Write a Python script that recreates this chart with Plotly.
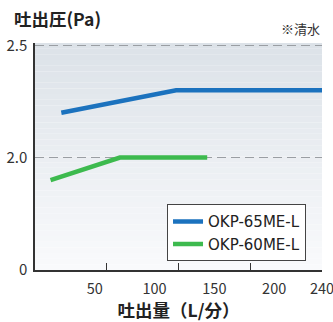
import plotly.graph_objects as go

# Data (x: 吐出量 L/分, y: 吐出圧; lower y region is compressed: 1.5 drawn as "0")
series_names = ["OKP-65ME-L", "OKP-60ME-L"]
blue_x = [22, 118, 240]
blue_y = [2.2, 2.3, 2.3]
green_x = [13, 71, 144]
green_y = [1.9, 2.0, 2.0]
x_label_vals = [50, 100, 150, 200, 240]
x_label_text = ["50", "100", "150", "200", "240"]
x_tick_vals = [60, 120, 180, 240]
y_tick_vals = [1.5, 2.0, 2.5]
y_tick_text = ["0", "2.0", "2.5"]

FONT = "Noto Sans CJK JP, Noto Sans, sans-serif"

fig = go.Figure()
fig.add_trace(go.Scatter(x=blue_x, y=blue_y, mode="lines", name=series_names[0],
                         line=dict(color="#1b72be", width=4.5)))
fig.add_trace(go.Scatter(x=green_x, y=green_y, mode="lines", name=series_names[1],
                         line=dict(color="#3dba4e", width=4.5)))
# invisible trace for secondary x axis (tick marks every 60)
fig.add_trace(go.Scatter(x=[0, 240], y=[1.5, 1.5], xaxis="x2", mode="lines",
                         line=dict(width=0), showlegend=False, hoverinfo="skip"))

# vertical gradient background
n = 40
top = (220, 226, 232)
bot = (249, 250, 252)
for i in range(n):
    t = i / (n - 1)
    c = tuple(round(top[k] + (bot[k] - top[k]) * t) for k in range(3))
    fig.add_shape(type="rect", xref="x domain", yref="y domain",
                  x0=0, x1=1, y0=1 - (i + 1) / n, y1=1 - i / n,
                  fillcolor="rgb(%d,%d,%d)" % c, line=dict(width=0), layer="below")

fig.update_layout(
    width=333, height=322,
    margin=dict(l=35, r=11, t=43, b=52),
    paper_bgcolor="white", plot_bgcolor="rgba(0,0,0,0)",
    font=dict(family=FONT, color="#222", size=14),
    showlegend=True,
    legend=dict(x=0.46, y=0.29, xanchor="left", yanchor="top",
                bgcolor="white", bordercolor="#444", borderwidth=1,
                font=dict(size=15, family="DejaVu Sans, sans-serif", color="#222"),
                itemwidth=30, tracegroupgap=0),
    xaxis=dict(range=[0, 240], tickvals=x_label_vals, ticktext=x_label_text,
               ticks="", showgrid=False, zeroline=False, automargin=False,
               ticklabeloverflow="allow",
               showline=True, linecolor="#333", linewidth=1.5,
               tickfont=dict(size=14.5, color="#333"), ticklabelstandoff=5,
               title=dict(text="<b>吐出量（L/分）</b>", font=dict(size=17.5, color="#222"), standoff=1)),
    xaxis2=dict(range=[0, 240], overlaying="x", side="bottom", tickvals=x_tick_vals,
                ticks="inside", ticklen=7, tickcolor="#333", tickwidth=1, automargin=False,
                showticklabels=False, showgrid=False, zeroline=False, showline=False),
    yaxis=dict(range=[1.5, 2.51], tickvals=y_tick_vals, ticktext=y_tick_text,
               ticks="", showgrid=True, gridcolor="#9a9ea3", gridwidth=1.4, griddash="9px,5px",
               zeroline=False, showline=True, linecolor="#333", linewidth=1.5, automargin=False,
               tickfont=dict(size=15, color="#333"), ticklabelstandoff=3),
    annotations=[
        dict(text="<b>吐出圧(Pa)</b>", xref="paper", yref="paper", x=-0.08, y=1.11,
             xanchor="left", yanchor="middle", showarrow=False,
             font=dict(size=17.5, color="#222", family=FONT)),
        dict(text="※清水", xref="paper", yref="paper", x=1.0, y=1.065,
             xanchor="right", yanchor="middle", showarrow=False,
             font=dict(size=13, color="#333", family=FONT)),
    ],
)

fig.write_html("out.html", config={"displayModeBar": False},
               post_script="document.body.style.margin='0';")
